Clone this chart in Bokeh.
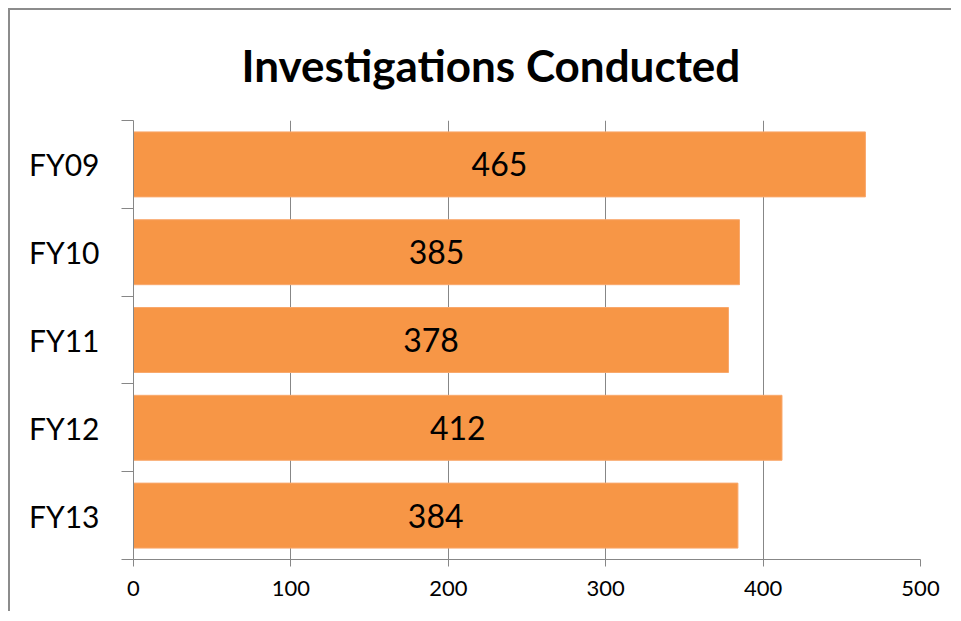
from bokeh.plotting import figure
from bokeh.models import Range1d, FixedTicker, LinearAxis, ColumnDataSource
from bokeh.embed import file_html
from bokeh.resources import INLINE

categories = ["FY09", "FY10", "FY11", "FY12", "FY13"]
investigations = [465, 385, 378, 412, 384]
x_ticks = [0, 100, 200, 300, 400, 500]

idx = list(range(len(categories)))
ycenters = [i + 0.5 for i in idx]
src = ColumnDataSource(dict(
    y=ycenters,
    right=investigations,
    mid=[v / 2 for v in investigations],
    lbl=[str(v) for v in investigations],
))

FONT = "Lato"
GRAY = "#878787"

p = figure(width=943, height=603, output_backend="svg", toolbar_location=None,
           x_range=Range1d(0, 500), y_range=Range1d(len(categories), 0),
           min_border_left=123, min_border_right=33, min_border_top=110,
           min_border_bottom=54, y_axis_location=None, x_axis_location=None)
p.styles = {"border-left": "2px solid #8c8c8c", "border-top": "2px solid #8c8c8c",
            "margin-left": "8px", "margin-top": "8px"}
p.outline_line_color = None
p.background_fill_color = "white"
p.border_fill_color = "white"

p.title.text = "Investigations Conducted"
p.title.text_font = FONT
p.title.text_font_size = "44px"
p.title.text_font_style = "bold"
p.title.align = "left"
p.title.offset = 108
p.title.standoff = 55
p.title.vertical_align = "top"
p.title.text_color = "black"

# x axis
xa = LinearAxis(ticker=FixedTicker(ticks=x_ticks))
xa.axis_line_color = GRAY
xa.major_tick_line_color = GRAY
xa.major_tick_out = 7
xa.major_tick_in = 0
xa.minor_tick_line_color = None
xa.major_label_text_font = FONT
xa.major_label_text_font_size = "22px"
xa.major_label_text_color = "black"
xa.major_label_standoff = 14
p.add_layout(xa, "below")

# y axis
ya = LinearAxis(ticker=FixedTicker(ticks=ycenters, minor_ticks=[float(i) for i in range(len(categories) + 1)]))
ya.major_label_overrides = {c: lab for c, lab in zip(ycenters, categories)}
ya.axis_line_color = GRAY
ya.major_tick_line_color = None
ya.major_tick_out = 0
ya.major_tick_in = 0
ya.minor_tick_line_color = GRAY
ya.minor_tick_out = 12
ya.minor_tick_in = 0
ya.major_label_text_font = FONT
ya.major_label_text_font_size = "30px"
ya.major_label_text_color = "black"
ya.major_label_standoff = 22
p.add_layout(ya, "left")

p.xgrid.ticker = FixedTicker(ticks=x_ticks[1:])
p.xgrid.grid_line_color = GRAY
p.ygrid.grid_line_color = None

p.hbar(y="y", right="right", left=0, height=0.74, source=src,
       fill_color="#F79646", line_color="#F9A86C", line_width=1)
p.text(x="mid", y="y", text="lbl", source=src, text_align="center",
       text_baseline="middle", text_font_size="32px", text_color="black",
       text_font={"value": FONT})

open("out.html", "w").write(file_html(p, INLINE))
